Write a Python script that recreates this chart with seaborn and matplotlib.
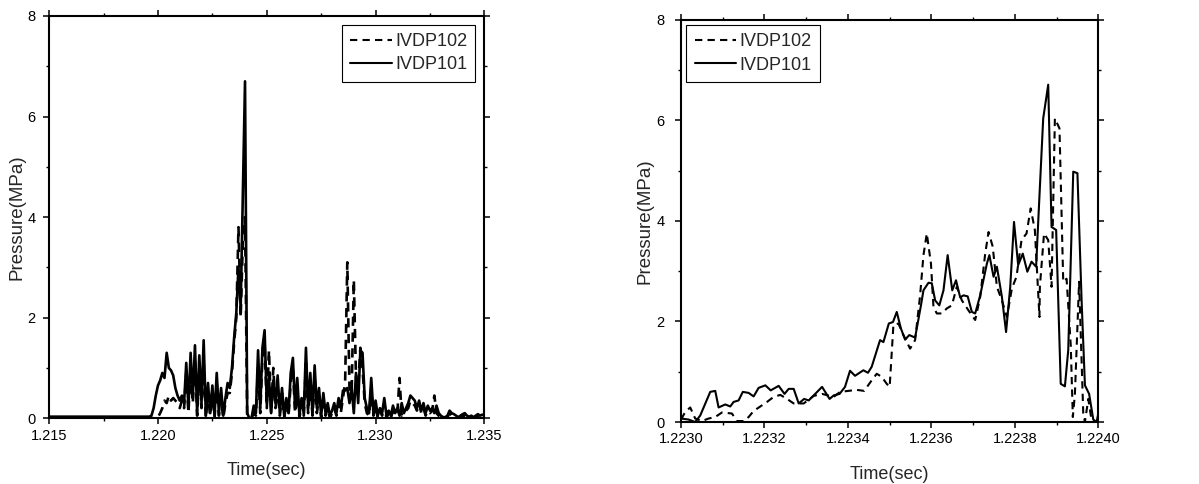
import matplotlib
matplotlib.use("Agg")
import matplotlib.pyplot as plt
from matplotlib.ticker import MultipleLocator, FormatStrFormatter
import numpy as np
import pandas as pd
import seaborn as sns

# ---- left panel: whole event, sampled every 0.1 ms from 1.2195 s (plus the flat start) ----
LEFT_T0 = 1.2195
LEFT_DT = 0.0001
left_start = [1.215, 1.2180]
left_start_101 = [0.03, 0.03]
left_start_102 = [0.0, 0.0]
left_101 = [
    0.03, 0.03, 0.05, 0.2, 0.45, 0.65, 0.75, 0.9, 0.8, 1.3,
    1.0, 0.95, 0.85, 0.6, 0.45, 0.35, 0.45, 0.3, 1.1, 0.2,
    1.3, 0.4, 1.45, 0.1, 1.25, 0.3, 1.55, 0.05, 0.7, 0.1,
    0.65, 0.05, 0.9, 0.1, 0.6, 0.05, 0.4, 0.7, 0.6, 1.0,
    1.6, 2.1, 3.0, 2.2, 4.5, 6.7, 0.1, 0.0, 0.0, 0.25,
    0.1, 1.35, 0.2, 1.4, 1.75, 0.3, 0.8, 0.1, 0.75, 0.3,
    0.85, 0.1, 0.6, 0.05, 0.4, 0.1, 0.9, 1.2, 0.2, 0.8,
    0.05, 0.4, 0.1, 1.4, 0.2, 0.9, 0.1, 1.05, 0.2, 0.6,
    0.05, 0.5, 0.1, 0.3, 0.05, 0.15, 0.3, 0.1, 0.4, 0.2,
    0.55, 0.55, 0.6, 0.3, 0.6, 0.1, 0.9, 0.3, 1.35, 1.3,
    0.4, 0.2, 0.1, 0.8, 0.1, 0.35, 0.05, 0.2, 0.1, 0.4,
    0.05, 0.15, 0.05, 0.25, 0.1, 0.2, 0.05, 0.3, 0.1, 0.2,
    0.3, 0.45, 0.4, 0.35, 0.2, 0.35, 0.15, 0.3, 0.1, 0.25,
    0.15, 0.2, 0.1, 0.25, 0.1, 0.05, 0.02, 0.02, 0.05, 0.15,
    0.1, 0.08, 0.05, 0.02, 0.05, 0.08, 0.1, 0.05, 0.03, 0.05,
    0.02, 0.05, 0.08, 0.05, 0.07, 0.05,
]
left_102 = [
    0.0, 0.0, 0.0, 0.0, 0.0, 0.02, 0.1, 0.2, 0.35, 0.3,
    0.45, 0.35, 0.4, 0.35, 0.3, 0.2, 0.35, 0.2, 0.9, 0.1,
    1.0, 0.3, 1.2, 0.05, 0.9, 0.2, 1.1, 0.0, 0.5, 0.05,
    0.55, 0.0, 0.7, 0.05, 0.4, 0.0, 0.3, 0.5, 0.5, 0.9,
    1.5, 2.0, 3.8, 2.0, 3.5, 4.0, 0.05, 0.0, 0.0, 0.1,
    0.05, 1.0, 0.1, 1.2, 1.5, 0.2, 1.35, 0.1, 1.0, 0.2,
    0.6, 0.05, 0.5, 0.0, 0.3, 0.05, 0.7, 1.0, 0.1, 0.6,
    0.0, 0.3, 0.05, 1.1, 0.1, 0.7, 0.05, 0.8, 0.1, 0.4,
    0.0, 0.3, 0.05, 0.2, 0.0, 0.1, 0.2, 0.05, 0.3, 0.1,
    0.4, 0.7, 3.1, 0.6, 0.5, 2.75, 0.8, 0.6, 1.4, 1.0,
    0.3, 0.1, 0.05, 0.6, 0.05, 0.25, 0.0, 0.15, 0.05, 0.3,
    0.0, 0.1, 0.0, 0.15, 0.05, 0.1, 0.8, 0.05, 0.1, 0.15,
    0.2, 0.35, 0.3, 0.25, 0.15, 0.3, 0.1, 0.2, 0.05, 0.15,
    0.1, 0.15, 0.45, 0.1, 0.05, 0.02, 0.0, 0.0, 0.02, 0.1,
    0.05, 0.05, 0.02, 0.0, 0.02, 0.05, 0.05, 0.02, 0.0, 0.02,
    0.0, 0.02, 0.05, 0.02, 0.03, 0.02,
]

# ---- right panel: zoom on 1.2230 - 1.2240 s ----
right_t_101 = [
    1.223000, 1.223018, 1.223034, 1.223046, 1.223070, 1.223082, 1.223090, 1.223106,
    1.223118, 1.223126, 1.223138, 1.223148, 1.223162, 1.223174, 1.223186, 1.223202,
    1.223215, 1.223234, 1.223248, 1.223258, 1.223270, 1.223282, 1.223295, 1.223306,
    1.223318, 1.223338, 1.223356, 1.223366, 1.223380, 1.223393, 1.223405, 1.223417,
    1.223437, 1.223448, 1.223457, 1.223477, 1.223485, 1.223498, 1.223508, 1.223517,
    1.223527, 1.223537, 1.223547, 1.223561, 1.223575, 1.223581, 1.223593, 1.223601,
    1.223609, 1.223619, 1.223629, 1.223639, 1.223650, 1.223659, 1.223669, 1.223677,
    1.223687, 1.223697, 1.223705, 1.223717, 1.223733, 1.223739, 1.223749, 1.223757,
    1.223769, 1.223779, 1.223789, 1.223798, 1.223808, 1.223819, 1.223830, 1.223840,
    1.223851, 1.223857, 1.223868, 1.223880, 1.223888, 1.223899, 1.223910, 1.223920,
    1.223928, 1.223940, 1.223950, 1.223960, 1.223968, 1.223978, 1.223988, 1.223996,
    1.224000,
]
right_p_101 = [
    0.07, 0.05, 0.0, 0.13, 0.6, 0.62, 0.29, 0.35,
    0.31, 0.4, 0.43, 0.6, 0.58, 0.51, 0.68, 0.73,
    0.63, 0.72, 0.56, 0.66, 0.66, 0.37, 0.46, 0.43,
    0.53, 0.7, 0.46, 0.53, 0.56, 0.7, 1.02, 0.92,
    1.03, 0.98, 1.1, 1.63, 1.59, 1.96, 1.99, 2.19,
    1.86, 1.64, 1.73, 1.68, 2.32, 2.62, 2.77, 2.76,
    2.42, 2.32, 2.62, 3.32, 2.62, 2.82, 2.48, 2.52,
    2.5, 2.19, 2.16, 2.52, 3.15, 3.32, 2.89, 3.09,
    2.49, 1.79, 2.69, 3.98, 3.12, 3.35, 2.99, 3.19,
    3.09, 4.15, 6.04, 6.71, 3.88, 3.82, 0.76, 0.71,
    1.43, 4.98, 4.95, 2.42, 0.73, 0.56, 0.05, 0.0,
    0.17,
]
right_t_102 = [
    1.223000, 1.223010, 1.223022, 1.223034, 1.223050, 1.223066, 1.223082, 1.223098,
    1.223122, 1.223134, 1.223150, 1.223162, 1.223174, 1.223190, 1.223206, 1.223222,
    1.223238, 1.223254, 1.223270, 1.223294, 1.223318, 1.223338, 1.223366, 1.223381,
    1.223401, 1.223421, 1.223439, 1.223457, 1.223469, 1.223481, 1.223493, 1.223500,
    1.223509, 1.223521, 1.223533, 1.223549, 1.223561, 1.223573, 1.223581, 1.223589,
    1.223599, 1.223605, 1.223613, 1.223625, 1.223637, 1.223649, 1.223661, 1.223673,
    1.223689, 1.223705, 1.223717, 1.223729, 1.223737, 1.223747, 1.223757, 1.223769,
    1.223781, 1.223793, 1.223804, 1.223816, 1.223828, 1.223838, 1.223848, 1.223859,
    1.223860, 1.223870, 1.223880, 1.223888, 1.223896, 1.223907, 1.223916, 1.223924,
    1.223934, 1.223939, 1.223944, 1.223954, 1.223964, 1.223968, 1.223976, 1.223984,
    1.223992,
]
right_p_102 = [
    0.05, 0.2, 0.29, 0.07, 0.02, 0.07, 0.1, 0.19,
    0.17, 0.02, 0.02, 0.1, 0.22, 0.31, 0.4, 0.5,
    0.54, 0.46, 0.37, 0.37, 0.52, 0.56, 0.5, 0.6,
    0.62, 0.64, 0.62, 0.83, 0.96, 0.9, 0.76, 0.7,
    1.93, 1.96, 1.73, 1.46, 1.63, 2.52, 3.32, 3.75,
    3.15, 2.29, 2.16, 2.16, 2.26, 2.32, 2.69, 2.42,
    2.22, 2.03, 2.49, 3.35, 3.78, 3.49, 2.69, 2.42,
    2.09, 2.66, 2.89, 3.62, 3.75, 4.25, 3.82, 2.09,
    2.69, 3.75, 3.62, 2.69, 6.04, 5.84, 2.79, 2.85,
    1.53, 0.1, 0.56, 2.79, 0.17, 0.0, 0.46, 0.03,
    0.0,
]

SERIES = ["IVDP102", "IVDP101"]

grid = np.round(LEFT_T0 + LEFT_DT * np.arange(len(left_101)), 4)
left_df = pd.concat([
    pd.DataFrame({"t": left_start + list(grid), "p": left_start_102 + left_102, "probe": "IVDP102"}),
    pd.DataFrame({"t": left_start + list(grid), "p": left_start_101 + left_101, "probe": "IVDP101"}),
])
right_df = pd.concat([
    pd.DataFrame({"t": right_t_102, "p": right_p_102, "probe": "IVDP102"}),
    pd.DataFrame({"t": right_t_101, "p": right_p_101, "probe": "IVDP101"}),
])

sns.set_theme(style="ticks")
plt.rcParams["font.family"] = ["Liberation Sans", "DejaVu Sans"]

fig = plt.figure(figsize=(11.99, 4.84), dpi=100)
ax_l = fig.add_axes([0.041, 0.136, 0.363, 0.831])
ax_r = fig.add_axes([0.568, 0.128, 0.348, 0.831])


def draw(ax, df, lw, ypad, tpad):
    sns.lineplot(
        data=df, x="t", y="p", hue="probe", style="probe",
        hue_order=SERIES, style_order=SERIES,
        palette={"IVDP102": "black", "IVDP101": "black"},
        dashes={"IVDP102": (3.5, 2.5), "IVDP101": ""},
        estimator=None, sort=False, lw=lw, ax=ax,
    )
    ax.set_ylim(0, 8)
    ax.yaxis.set_major_locator(MultipleLocator(2))
    ax.yaxis.set_minor_locator(MultipleLocator(1))
    ax.yaxis.set_major_formatter(FormatStrFormatter("%d"))
    ax.tick_params(which="both", direction="out", top=True, right=True,
                   labeltop=False, labelright=False, colors="black", labelsize=10.5)
    ax.tick_params(which="major", length=4, width=1.1)
    ax.tick_params(which="minor", length=2.5, width=1.0)
    ax.tick_params(axis="y", pad=tpad)
    for s in ax.spines.values():
        s.set_color("black")
        s.set_linewidth(1.5)
        s.set_visible(True)
    ax.set_xlabel("Time(sec)", fontsize=13, labelpad=14)
    ax.set_ylabel("Pressure(MPa)", fontsize=13.5, labelpad=ypad)
    ax.grid(False)


def legend(ax, loc, pad):
    leg = ax.legend(loc=loc, fontsize=13, frameon=True, fancybox=False,
                    edgecolor="black", framealpha=1, handlelength=2.3,
                    handletextpad=0.2, borderaxespad=pad, borderpad=0.45,
                    labelspacing=0.35)
    leg.get_frame().set_linewidth(0.8)
    for line in leg.get_lines():
        line.set_linewidth(1.5)


draw(ax_l, left_df, 1.9, 1, 6)
ax_l.set_xlim(1.215, 1.235)
ax_l.xaxis.set_major_locator(MultipleLocator(0.005))
ax_l.xaxis.set_minor_locator(MultipleLocator(0.0025))
ax_l.xaxis.set_major_formatter(FormatStrFormatter("%.3f"))
legend(ax_l, "upper right", 0.5)

draw(ax_r, right_df, 1.5, 2, 8)
ax_r.set_xlim(1.2230, 1.2240)
ax_r.xaxis.set_major_locator(MultipleLocator(0.0002))
ax_r.xaxis.set_minor_locator(MultipleLocator(0.0001))
ax_r.xaxis.set_major_formatter(FormatStrFormatter("%.4f"))
legend(ax_r, "upper left", 0.3)

fig.savefig("out.png", dpi=100)
